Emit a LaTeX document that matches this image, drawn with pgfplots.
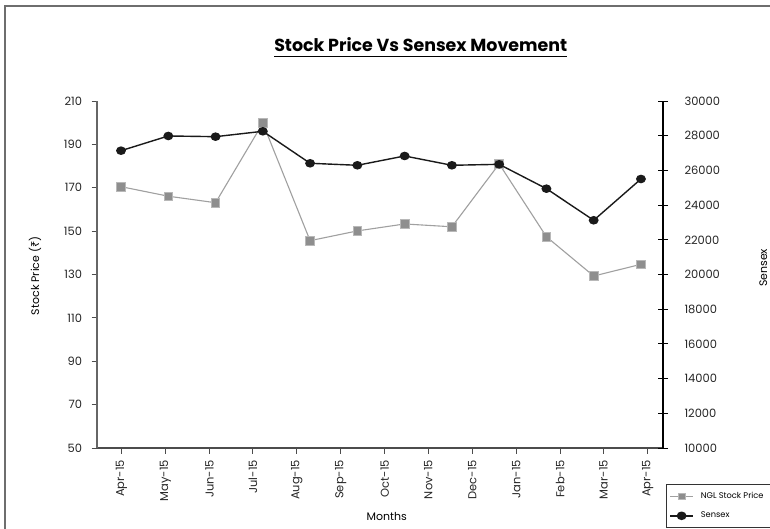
\documentclass[border=0pt]{standalone}
\usepackage{pgfplots}
\pgfplotsset{compat=1.18}
\usepackage{fontspec}
\setmainfont{Poppins}
\newfontfamily\rupee{Noto Sans}
\newcommand\ticksfont{\fontsize{11.5}{12}\selectfont}
\newcommand\labfont{\fontsize{11}{12}\selectfont}
\newcommand\ul[1]{\setbox0\hbox{#1}\rlap{\rule[-6bp]{\wd0}{1.3bp}}\box0}
\definecolor{gline}{HTML}{A0A0A0}
\definecolor{gfill}{HTML}{8E8E8E}
\definecolor{gedge}{HTML}{B8B8B8}
\definecolor{bline}{HTML}{1A1A1A}
\definecolor{frame}{HTML}{6E6E6E}
\pgfplotsset{
  gstyle/.style={color=gline, line width=1.1bp, mark=square*, mark size=4.3bp,
    mark options={fill=gfill, draw=gedge, line width=0.8bp}},
  bstyle/.style={color=bline, line width=1.4bp, mark=*, mark size=4.2bp,
    mark options={fill=bline, draw=bline, yscale=0.85}},
}
\begin{document}
\begin{tikzpicture}
\useasboundingbox (0,0) rectangle (770bp,529bp);
\fill[white] (0,0) rectangle (770bp,529bp);
\draw[frame, line width=2bp] (5bp,0bp) -- (5bp,523bp) -- (775bp,523bp);
\begin{axis}[
  at={(97bp,81bp)}, anchor=south west, scale only axis,
  width=566bp, height=347bp,
  xmin=-0.508, xmax=11.466, ymin=50, ymax=210,
  axis y line*=left, axis x line*=bottom,
  xtick={0.01,0.94,1.87,2.79,3.72,4.65,5.58,6.50,7.43,8.36,9.29,10.21,11.14},
  xticklabels={Apr-15,May-15,Jun-15,Jul-15,Aug-15,Sep-15,Oct-15,Nov-15,Dec-15,Jan-15,Feb-15,Mar-15,Apr-15},
  ytick={50,70,...,210},
  tick align=outside, major tick length=5.5bp,
  x axis line style={draw=black!70, line width=1.2bp},
  y axis line style={draw=black!60, line width=1.2bp},
  every tick/.style={black!70, line width=0.8bp},
  xticklabel style={rotate=90, anchor=east, font=\ticksfont, text=black!85, xshift=-3bp},
  yticklabel style={font=\ticksfont, xshift=-6bp, text=black!85},
  /pgf/number format/assume math mode=true,
  xlabel={Months},
  xlabel style={at={(axis description cs:0.512,-0.196)}, anchor=center, font=\labfont},
  ylabel={Stock Price ({\rupee ₹})},
  ylabel style={at={(axis description cs:-0.1095,0.496)}, anchor=center, font=\labfont},
  title={\ul{Stock Price Vs Sensex Movement}},
  title style={at={(axis description cs:0.572,1.137)}, anchor=center, font=\fontsize{17.5}{18}\selectfont\bfseries},
  clip=false,
]
\addplot[gstyle] coordinates {
(0,170.5) (1,166.1) (2,163.1) (3,199.8) (4,145.6) (5,150.1)
(6,153.3) (7,152.0) (8,181.0) (9,147.4) (10,129.3) (11,134.7)};
\end{axis}
\begin{axis}[
  at={(97bp,81bp)}, anchor=south west, scale only axis,
  width=566bp, height=347bp,
  xmin=-0.508, xmax=11.466, ymin=10000, ymax=30000,
  axis x line=none, axis y line*=right,
  ytick={10000,12000,...,30000},
  scaled y ticks=false,
  /pgf/number format/1000 sep={},
  /pgf/number format/assume math mode=true,
  tick align=center, major tick length=10bp,
  y axis line style={draw=black, line width=1.2bp},
  every tick/.style={black, line width=0.8bp},
  yticklabel style={font=\ticksfont, xshift=13bp, text=black!85},
  ylabel={Sensex},
  ylabel style={at={(axis description cs:1.177,0.519)}, anchor=center, font=\labfont, rotate=0},
  legend style={at={(axis description cs:1.0053,-0.1037)}, anchor=north west,
    draw=black!80, line width=0.8bp, font=\fontsize{8.3}{9}\selectfont,
    inner xsep=3bp, inner ysep=6bp, row sep=8bp},
  legend cell align=left,
  legend image code/.code={\draw[mark repeat=2, mark phase=2, #1] plot coordinates {(0bp,0bp) (11.5bp,0bp) (23bp,0bp)};},
  clip=false,
]
\addlegendimage{gstyle, mark size=3.3bp}
\addlegendentry{\hspace{5bp}\makebox[80bp][l]{NGL Stock Price}}
\addplot[bstyle] coordinates {
(0,27136) (1,27984) (2,27944) (3,28254) (4,26410) (5,26295)
(6,26831) (7,26295) (8,26350) (9,24946) (10,23125) (11,25505)};
\addlegendentry{\hspace{5bp}Sensex}
\end{axis}
\end{tikzpicture}
\end{document}
